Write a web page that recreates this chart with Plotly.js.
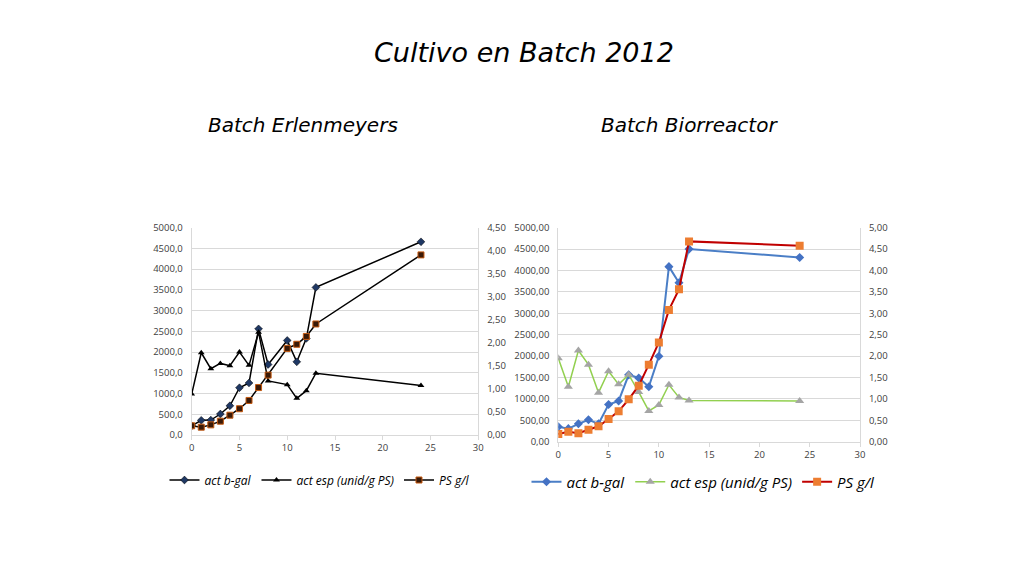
<!DOCTYPE html>
<html>
<head>
<meta charset="utf-8">
<script src="https://cdn.plot.ly/plotly-3.0.1.min.js"></script>
<style>
  html, body { margin: 0; padding: 0; background: #fff; }
  #chart { width: 1024px; height: 576px; }
</style>
</head>
<body>
<div id="chart"></div>
<script>
// Batch Erlenmeyers (left)
const erlHours = [0, 1, 2, 3, 4, 5, 6, 7, 8, 10, 11, 12, 13, 24]
const erlBgal = [220, 355, 360, 506, 705, 1140, 1255, 2560, 1700, 2280, 1765, 2330, 3560, 4660]
const erlEsp = [988, 1984, 1600, 1727, 1672, 2000, 1680, 2480, 1305, 1215, 885, 1070, 1490, 1195]
const erlPs = [0.20, 0.17, 0.22, 0.30, 0.43, 0.57, 0.75, 1.03, 1.30, 1.88, 1.97, 2.14, 2.41, 3.91]

// Batch Biorreactor (right)
const bioHours = [0, 1, 2, 3, 4, 5, 6, 7, 8, 9, 10, 11, 12, 13, 24]
const bioBgal = [350, 305, 418, 512, 418, 868, 952, 1562, 1490, 1285, 1995, 4090, 3715, 4500, 4305]
const bioEsp = [1950, 1285, 2130, 1800, 1145, 1645, 1340, 1565, 1160, 720, 860, 1330, 1035, 965, 950]
const bioPs = [0.18, 0.23, 0.20, 0.28, 0.36, 0.53, 0.71, 0.99, 1.31, 1.80, 2.32, 3.08, 3.56, 4.68, 4.58]

const seriesNames = ["act b-gal", "act esp (unid/g PS)", "PS g/l"]

const tickFont = { family: "Open Sans, sans-serif", size: 9.5, color: "#404040" }
const gridColor = "#d9d9d9"

const data = [
    {
        x: erlHours, y: erlBgal, name: seriesNames[0], type: "scatter", mode: "lines+markers",
        xaxis: "x", yaxis: "y", legend: "legend",
        line: { color: "#000000", width: 1.5 },
        marker: { symbol: "diamond", size: 6, color: "#1f3864", line: { color: "#000", width: 0.5 } }
    },
    {
        x: erlHours, y: erlEsp, name: seriesNames[1], type: "scatter", mode: "lines+markers",
        xaxis: "x", yaxis: "y", legend: "legend",
        line: { color: "#000000", width: 1.5 },
        marker: { symbol: "triangle-up", size: 6, color: "#000000" }
    },
    {
        x: erlHours, y: erlPs, name: seriesNames[2], type: "scatter", mode: "lines+markers",
        xaxis: "x", yaxis: "y2", legend: "legend",
        line: { color: "#000000", width: 1.5 },
        marker: { symbol: "square", size: 6, color: "#3a1a08", line: { color: "#c55a11", width: 1 } }
    },
    {
        x: bioHours, y: bioBgal, name: seriesNames[0], type: "scatter", mode: "lines+markers",
        xaxis: "x2", yaxis: "y3", legend: "legend2",
        line: { color: "#4a7ec6", width: 2 },
        marker: { symbol: "diamond", size: 7, color: "#4472c4" }
    },
    {
        x: bioHours, y: bioEsp, name: seriesNames[1], type: "scatter", mode: "lines+markers",
        xaxis: "x2", yaxis: "y3", legend: "legend2",
        line: { color: "#92d050", width: 1.5 },
        marker: { symbol: "triangle-up", size: 8, color: "#a5a5a5" }
    },
    {
        x: bioHours, y: bioPs, name: seriesNames[2], type: "scatter", mode: "lines+markers",
        xaxis: "x2", yaxis: "y4", legend: "legend2",
        line: { color: "#c00000", width: 2 },
        marker: { symbol: "square", size: 8, color: "#ed7d31" }
    }
]

function xAxis(domain, anchor) {
    return {
        domain: domain, anchor: anchor, range: [0, 30], dtick: 5, tick0: 0,
        showgrid: false, zeroline: false, showline: true, linecolor: gridColor,
        ticks: "outside", ticklen: 4, tickcolor: gridColor, tickfont: tickFont, fixedrange: true
    }
}

function yAxis(domain, anchor, max, step, fmt, side, overlay) {
    const ax = {
        domain: domain, anchor: anchor, range: [0, max], dtick: step, tick0: 0,
        tickformat: fmt, side: side, zeroline: false, showline: true, linecolor: gridColor,
        ticks: "", ticklabelstandoff: 6, tickfont: tickFont,
        showgrid: !overlay, gridcolor: gridColor, fixedrange: true
    }
    if (overlay) ax.overlaying = overlay
    return ax
}

const leftX = [191.7 / 1024, 478.3 / 1024]
const rightX = [558.3 / 1024, 860 / 1024]
const leftY = [1 - 435 / 576, 1 - 227.7 / 576]
const rightY = [1 - 441.7 / 576, 1 - 227.7 / 576]

const titleFont = { family: "DejaVu Sans, sans-serif", style: "italic", color: "#000" }

const layout = {
    width: 1024,
    height: 576,
    margin: { l: 0, r: 0, t: 0, b: 0 },
    paper_bgcolor: "#ffffff",
    plot_bgcolor: "#ffffff",
    separators: ",.",
    showlegend: true,
    xaxis: xAxis(leftX, "y"),
    yaxis: yAxis(leftY, "x", 5000, 500, ".1f", "left"),
    yaxis2: yAxis(leftY, "x", 4.5, 0.5, ".2f", "right", "y"),
    xaxis2: xAxis(rightX, "y3"),
    yaxis3: yAxis(rightY, "x2", 5000, 500, ".2f", "left"),
    yaxis4: yAxis(rightY, "x2", 5, 0.5, ".2f", "right", "y3"),
    legend: {
        orientation: "h", x: 0.312, y: 1 - 480 / 576, xanchor: "center", yanchor: "middle",
        font: { family: "Open Sans, sans-serif", size: 12, style: "italic", color: "#000" },
        itemwidth: 30, tracegroupgap: 0, bgcolor: "rgba(0,0,0,0)"
    },
    legend2: {
        orientation: "h", x: 0.687, y: 1 - 482 / 576, xanchor: "center", yanchor: "middle",
        font: { family: "Open Sans, sans-serif", size: 15, style: "italic", color: "#000" },
        itemwidth: 30, tracegroupgap: 0, bgcolor: "rgba(0,0,0,0)"
    },
    annotations: [
        {
            text: "Cultivo en Batch 2012", xref: "paper", yref: "paper",
            x: 524 / 1024, y: 1 - 52 / 576, xanchor: "center", yanchor: "middle",
            showarrow: false, font: Object.assign({ size: 27 }, titleFont)
        },
        {
            text: "Batch Erlenmeyers", xref: "paper", yref: "paper",
            x: 303 / 1024, y: 1 - 125 / 576, xanchor: "center", yanchor: "middle",
            showarrow: false, font: Object.assign({ size: 20 }, titleFont)
        },
        {
            text: "Batch Biorreactor", xref: "paper", yref: "paper",
            x: 689 / 1024, y: 1 - 125 / 576, xanchor: "center", yanchor: "middle",
            showarrow: false, font: Object.assign({ size: 20 }, titleFont)
        }
    ]
}

const config = { staticPlot: true, responsive: false }

Plotly.newPlot("chart", data, layout, config)
</script>
</body>
</html>
